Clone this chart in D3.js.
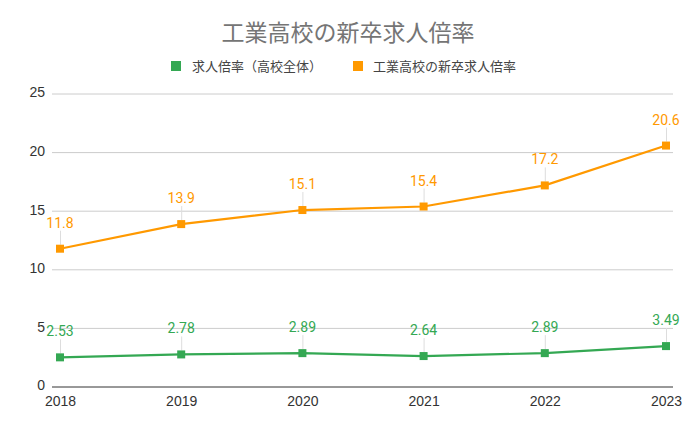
<!DOCTYPE html>
<html><head><meta charset="utf-8">
<script src="https://cdn.jsdelivr.net/npm/d3@7"></script>
<style>body{margin:0;background:#fff}svg{display:block;font-family:Roboto,"Noto Sans CJK JP",sans-serif}</style>
</head><body><svg id="c" width="695" height="430"></svg>
<script>
const years = ["2018","2019","2020","2021","2022","2023"];
const overall = [2.53, 2.78, 2.89, 2.64, 2.89, 3.49];
const technical = [11.8, 13.9, 15.1, 15.4, 17.2, 20.6];
const overallLabels = ["2.53","2.78","2.89","2.64","2.89","3.49"];
const technicalLabels = ["11.8","13.9","15.1","15.4","17.2","20.6"];
const yTicks = [0,5,10,15,20,25];
const seriesNames = ["求人倍率（高校全体）","工業高校の新卒求人倍率"];
const colors = ["#34a853","#ff9900"];
const title = "工業高校の新卒求人倍率";

const svg = d3.select("#c");
const x = d3.scalePoint().domain(years).range([60, 666]);
const y = d3.scaleLinear().domain([0,25]).range([387, 94]);
const gridL = 52, gridR = 673;
const axisFont = "'Liberation Sans',Arial,sans-serif";

svg.append("text").attr("x",348).attr("y",41).attr("text-anchor","middle")
  .attr("font-size",23).attr("fill","#757575").text(title);

// legend
const leg = [{x:171,tx:192,name:seriesNames[0],c:colors[0]},{x:353,tx:373,name:seriesNames[1],c:colors[1]}];
leg.forEach(l=>{
  svg.append("rect").attr("x",l.x).attr("y",61).attr("width",10).attr("height",10).attr("fill",l.c);
  svg.append("text").attr("x",l.tx).attr("y",71).attr("font-size",13).attr("fill","#444").text(l.name);
});

// grid
svg.append("g").selectAll("line").data(yTicks.filter(d=>d>0)).join("line")
  .attr("x1",gridL).attr("x2",gridR).attr("y1",d=>y(d)).attr("y2",d=>y(d))
  .attr("stroke","#ccc").attr("stroke-width",1);
svg.append("line").attr("x1",gridL).attr("x2",gridR).attr("y1",y(0)).attr("y2",y(0))
  .attr("stroke","#333").attr("stroke-width",1);

// y axis
const ya = svg.append("g").attr("transform",`translate(${gridL-7},0)`)
  .call(d3.axisLeft(y).tickValues(yTicks).tickSize(0).tickPadding(0));
ya.select(".domain").remove();
ya.selectAll("text").attr("font-size",14).attr("fill","#333").attr("font-family",axisFont).attr("dy","0.2em");

// x axis
const xa = svg.append("g").attr("transform",`translate(0,${y(0)})`)
  .call(d3.axisBottom(x).tickSize(0).tickPadding(9));
xa.select(".domain").remove();
xa.selectAll("text").attr("font-size",14).attr("fill","#333").attr("font-family",axisFont);

function drawSeries(vals, labels, color){
  const pts = years.map((yr,i)=>({yr, v:vals[i], l:labels[i]}));
  svg.append("g").selectAll("line").data(pts).join("line")
    .attr("x1",d=>x(d.yr)+0.5).attr("x2",d=>x(d.yr)+0.5)
    .attr("y1",d=>y(d.v)-18).attr("y2",d=>y(d.v)-4)
    .attr("stroke","#ddd").attr("stroke-width",1);
  svg.append("path").datum(pts)
    .attr("d",d3.line().x(d=>x(d.yr)).y(d=>y(d.v)))
    .attr("fill","none").attr("stroke",color).attr("stroke-width",2.2);
  svg.append("g").selectAll("rect").data(pts).join("rect")
    .attr("x",d=>x(d.yr)-4).attr("y",d=>y(d.v)-4).attr("width",8).attr("height",8).attr("fill",color);
  svg.append("g").selectAll("text").data(pts).join("text")
    .attr("x",d=>x(d.yr)).attr("y",d=>y(d.v)-21).attr("text-anchor","middle")
    .attr("font-size",14).attr("fill",color).attr("font-family","Roboto,sans-serif").text(d=>d.l);
}
drawSeries(overall, overallLabels, colors[0]);
drawSeries(technical, technicalLabels, colors[1]);
</script></body></html>
